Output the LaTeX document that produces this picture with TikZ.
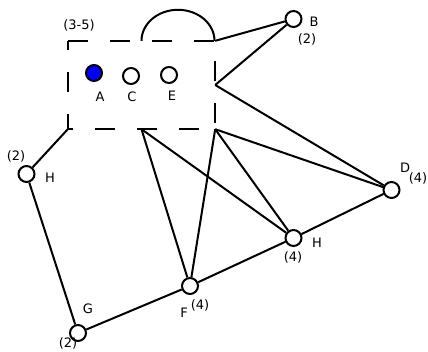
\documentclass[tikz,border=0pt]{standalone}
\usepackage{fontspec}
\setmainfont{DejaVu Sans}
\begin{document}
\begin{tikzpicture}[x=1pt,y=-1pt,
  every node/.style={font=\fontsize{13}{15}\selectfont, inner sep=0pt},
  vert/.style={circle, draw, line width=2pt, fill=white, minimum size=16pt},
  edge/.style={line width=2pt},
  grp/.style={line width=2pt, dash pattern=on 20pt off 22pt}]
\useasboundingbox (0,0) rectangle (428,351);

% group box and its cap
\node[minimum width=147pt, minimum height=88pt, inner sep=0pt] (box) at (141.5,85) {};
\draw[grp] (box.north west) -- (box.north east) -- (box.south east) -- (box.south west) -- cycle;
\draw[edge] (box.north) arc[start angle=180, end angle=360, x radius=36.5, y radius=31];
\node at (79,25) {(3-5)};

% vertices inside the group
\node[vert, fill=blue] (A) at (94,73) {};
\node[vert] (C) at (131,76) {};
\node[vert] (E) at (169,75) {};
\node at (100,97) {A};
\node at (132,97) {C};
\node at (172,96) {E};

% outer vertices
\node[vert] (B) at (293.5,19) {};
\node[vert] (H1) at (26.5,174) {};
\node[vert] (G) at (78,333) {};
\node[vert] (F) at (190,286) {};
\node[vert] (H2) at (293.5,238) {};
\node[vert] (D) at (391.5,190) {};

% labels
\node at (314,22) {B};
\node at (307,39) {(2)};
\node at (16,156) {(2)};
\node at (50,178) {H};
\node at (88,309) {G};
\node at (68,343) {(2)};
\node at (184,313) {F};
\node at (200,305) {(4)};
\node at (317,243) {H};
\node at (293,257) {(4)};
\node at (405,168) {D};
\node at (418,178) {(4)};

% connectors
\draw[edge] (box.north east) -- (B);
\draw[edge] (box.east) -- (B);
\draw[edge] (box.east) -- (D);
\draw[edge] (box.south east) -- (D);
\draw[edge] (box.south east) -- (H2);
\draw[edge] (box.south east) -- (F);
\draw[edge] (box.south) -- (F);
\draw[edge] (box.south) -- (H2);
\draw[edge] (box.south west) -- (H1);
\draw[edge] (H1) -- (G);
\draw[edge] (G) -- (F);
\draw[edge] (F) -- (H2);
\draw[edge] (H2) -- (D);
\end{tikzpicture}
\end{document}
